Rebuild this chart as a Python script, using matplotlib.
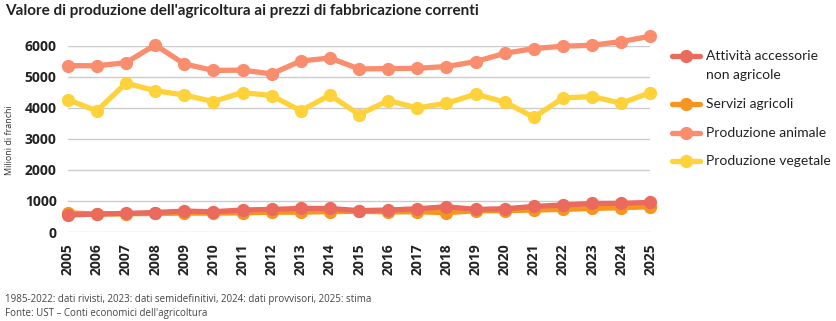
import matplotlib.pyplot as plt
from matplotlib.lines import Line2D

anni = list(range(2005, 2026))

attivita_accessorie = [550, 580, 600, 630, 675, 655, 710, 730, 760, 760, 690, 710, 750,
                       815, 730, 750, 825, 870, 920, 925, 955]
servizi_agricoli = [620, 580, 590, 600, 610, 610, 620, 640, 640, 660, 670, 650, 655,
                    625, 685, 690, 710, 730, 760, 785, 815]
produzione_animale = [5355, 5350, 5450, 6020, 5410, 5200, 5210, 5090, 5505, 5600, 5250, 5260, 5270,
                      5325, 5485, 5750, 5905, 5980, 6010, 6130, 6300]
produzione_vegetale = [4260, 3900, 4790, 4550, 4410, 4200, 4490, 4390, 3900, 4410, 3780, 4230, 3995,
                       4145, 4435, 4185, 3695, 4315, 4360, 4145, 4490]

serie = [
    ("Attività accessorie\nnon agricole", attivita_accessorie, "#EA6B5E"),
    ("Servizi agricoli", servizi_agricoli, "#F7961E"),
    ("Produzione animale", produzione_animale, "#F98D6E"),
    ("Produzione vegetale", produzione_vegetale, "#FDD23A"),
]

plt.rcParams['font.family'] = ['Open Sans', 'DejaVu Sans']
W, H = 836, 321

fig = plt.figure(figsize=(8.36, 3.21), dpi=100)
ax = fig.add_axes([0.081, 0.277, 0.697, 0.581])

# draw from the back: vegetable, animal, services, then ancillary activities on top
for i, (nome, valori, colore) in enumerate(reversed(serie)):
    ax.plot(anni, valori, color=colore, lw=3.8, marker="o", ms=8.5,
            solid_capstyle="round", clip_on=False, zorder=3 + i)

ax.set_xlim(2005, 2025)
ax.set_ylim(0, 6000)
ax.set_yticks(range(0, 7000, 1000))
ax.set_xticks(anni)
ax.set_xticklabels([str(a) for a in anni], rotation=90, fontweight="bold", fontsize=10)
ax.set_yticklabels([str(v) for v in range(0, 7000, 1000)], fontweight="bold", fontsize=10)
ax.tick_params(length=0, pad=8, colors="#222222")
ax.grid(axis="y", color="#cccccc", lw=1)
ax.set_axisbelow(True)
for s in ax.spines.values():
    s.set_visible(False)

fig.text(0.011, 0.565, "Milioni di franchi", fontsize=6.5, color="#333333",
         rotation=90, ha="center", va="center")

# legend, drawn by hand so the marker sits on the first text line
legenda_y = [56, 104, 133, 161]
for (nome, _, colore), py in zip(serie, legenda_y):
    yf = 1 - py / H
    fig.add_artist(Line2D([672 / W, 700 / W], [yf, yf], color=colore, lw=3.8,
                          solid_capstyle="round", transform=fig.transFigure))
    fig.add_artist(Line2D([686 / W], [yf], color=colore, marker="o", ms=8.5,
                          transform=fig.transFigure))
    righe = nome.split("\n")
    for k, riga in enumerate(righe):
        fig.text(706 / W, 1 - (py + 19 * k) / H, riga, fontsize=10, color="#222222",
                 va="center", family=["Lato", "DejaVu Sans"])

fig.text(0.006, 0.965, "Valore di produzione dell'agricoltura ai prezzi di fabbricazione correnti",
         fontsize=11, fontweight="bold", color="#222222", va="center",
         family=["Lato", "DejaVu Sans"])
fig.text(0.006, 0.068, "1985-2022: dati rivisti, 2023: dati semidefinitivi, 2024: dati provvisori, 2025: stima",
         fontsize=7, color="#444444", va="center")
fig.text(0.006, 0.024, "Fonte: UST – Conti economici dell'agricoltura",
         fontsize=7, color="#444444", va="center")

fig.savefig("out.png", dpi=100)
